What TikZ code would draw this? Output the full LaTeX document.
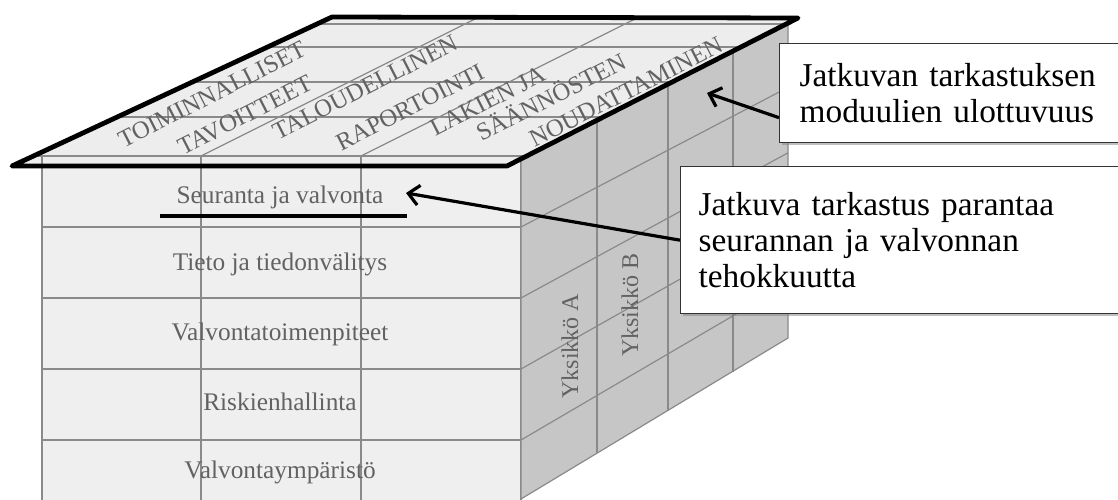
\documentclass[tikz,border=0pt]{standalone}
\usepackage{fontspec}
\setmainfont{Liberation Serif}
\usetikzlibrary{arrows.meta,shadows,calc}

\definecolor{frontgray}{RGB}{239,239,239}
\definecolor{sidegray}{RGB}{198,198,198}
\definecolor{roofgray}{RGB}{237,237,237}
\definecolor{gridgray}{RGB}{138,138,138}
\definecolor{labelgray}{RGB}{98,98,98}

\tikzset{
	gridline/.style={draw=gridgray, line width=0.9pt},
	roofedge/.style={draw=black, line width=3.6pt, line join=round},
	rooflabel/.style={text=labelgray, font=\fontsize{18.5}{18.5}\selectfont, rotate=27, inner sep=0pt},
	rowlabel/.style={text=labelgray, font=\fontsize{19}{19}\selectfont, inner sep=0pt, anchor=base},
	unitlabel/.style={text=labelgray, font=\fontsize{18}{18}\selectfont, rotate=90, inner sep=0pt},
	callout/.style={draw=black!80, line width=1pt, fill=white, align=left, anchor=north west, inner xsep=13pt, font=\fontsize{25}{27}\selectfont, drop shadow={shadow xshift=1.5pt, shadow yshift=-2pt, opacity=0.5}},
	pointer/.style={line width=2.4pt, -{Straight Barb[length=8pt,width=15pt]}},
}

\begin{document}
\begin{tikzpicture}[x=0.75pt,y=0.75pt,yscale=-1,xscale=1]
	\useasboundingbox (0,0) rectangle (1118,500);
	\clip (0,0) rectangle (1118,500);
	\fill[white] (0,0) rectangle (1118,500);
	\draw[gridline, fill=frontgray] (42,156) rectangle (521,506);
	\draw[gridline] (42,227) -- (521,227) (42,298) -- (521,298) (42,369) -- (521,369) (42,440) -- (521,440);
	\draw[gridline] (201,156) -- (201,506) (361,156) -- (361,506);
	\draw[gridline, fill=sidegray] (521,156) -- (788,22) -- (788,338) -- (521,499) -- cycle;
	\draw[gridline] (597,118) -- (597,453.4) (668,82.5) -- (668,410.8) (733,50) -- (733,371.8);
	\draw[gridline] (521,227) -- (788,87.4) (521,298) -- (788,152.8) (521,369) -- (788,218.2) (521,440) -- (788,283.6);
	\begin{scope}
		\clip (12,166) -- (507,166) -- (798,18) -- (332,17) -- cycle;
		\fill[roofgray] (0,0) rectangle (820,180);
		\draw[gridline] (0,24) -- (820,24) (0,47) -- (820,47) (0,82) -- (820,82) (0,117) -- (820,117) (0,156) -- (820,156);
		\draw[gridline] (201,156) -- (513,0) (361,156) -- (673,0);
		\draw[gridline] (42,156) -- (42,170) (201,156) -- (201,170) (361,156) -- (361,170);
	\end{scope}
	\draw[roofedge] (12,166) -- (507,166) -- (798,18) -- (332,17) -- cycle;
	\node[rooflabel] (goalsA) at (212,94.3) {TOIMINNALLISET};
	\node[rooflabel] (goalsB) at (245,115.2) {TAVOITTEET};
	\node[rooflabel] (finA) at (365,87.3) {TALOUDELLINEN};
	\node[rooflabel] (finB) at (410,107.2) {RAPORTOINTI};
	\node[rooflabel] (lawA) at (487.5,101) {LAKIEN JA};
	\node[rooflabel] (lawB) at (550.3,95.7) {SÄÄNNÖSTEN};
	\node[rooflabel] (lawC) at (626,91.7) {NOUDATTAMINEN};
	\node[rowlabel] (monitor) at (280,203) {Seuranta ja valvonta};
	\node[rowlabel] (inform) at (280,270) {Tieto ja tiedonvälitys};
	\node[rowlabel] (activity) at (280,340) {Valvontatoimenpiteet};
	\node[rowlabel] (risk) at (280,410) {Riskienhallinta};
	\node[rowlabel] (environ) at (280,478) {Valvontaympäristö};
	\node[unitlabel] (unitA) at (570,346) {Yksikkö A};
	\node[unitlabel] (unitB) at (630,305) {Yksikkö B};
	\draw[line width=3pt] (160,216) -- (407,216);
	\node[callout, minimum width=270pt, minimum height=74.25pt, text width=240pt] (boxmod) at (779,43) {Jatkuvan tarkastuksen\\moduulien ulottuvuus};
	\node[callout, minimum width=345pt, minimum height=110.25pt, text width=318pt] (boxeff) at (680,166) {Jatkuva tarkastus parantaa\\seurannan ja valvonnan\\tehokkuutta};
	\coordinate (tipmod) at (707,93);
	\coordinate (tipseur) at (406,193);
	\draw[pointer] ($(boxmod.west)+(0,24.5)$) -- (tipmod);
	\draw[pointer] (boxeff.west) -- (tipseur);
\end{tikzpicture}
\end{document}
